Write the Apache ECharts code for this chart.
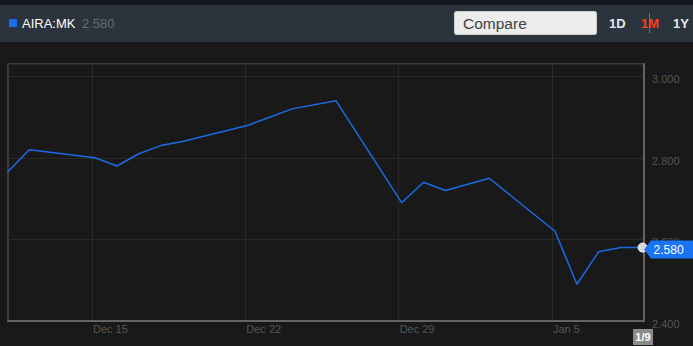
<!DOCTYPE html>
<html>
<head>
<meta charset="utf-8">
<script src="https://cdn.jsdelivr.net/npm/echarts@6/dist/echarts.min.js"></script>
<style>
  html, body { margin: 0; padding: 0; background: #191919; }
  #chart { width: 693px; height: 346px; }
</style>
</head>
<body>
<div id="chart"></div>
<script>
// ---- data ----
const ticker = 'AIRA:MK';
const dates = ['2014-12-11','2014-12-12','2014-12-15','2014-12-16','2014-12-17','2014-12-18','2014-12-19',
               '2014-12-22','2014-12-23','2014-12-24','2014-12-26','2014-12-29','2014-12-30','2014-12-31',
               '2015-01-02','2015-01-05','2015-01-06','2015-01-07','2015-01-08','2015-01-09'];
const prices = [2.765, 2.82, 2.80, 2.78, 2.81, 2.83, 2.84,
                2.88, 2.90, 2.92, 2.94, 2.69, 2.74, 2.72,
                2.75, 2.62, 2.49, 2.57, 2.58, 2.58];
const weekTicks = ['2014-12-15','2014-12-22','2014-12-29','2015-01-05'];
const rangeButtons = ['1D','1M','1Y'];
const activeRange = '1M';
const sessionTime = 'T03:18:00Z';
const viewStart = '2014-12-11T04:00:00Z';
const viewEnd = '2015-01-09T04:50:00Z';
const yMin = 2.4, yMax = 3.03, yStep = 0.2;

// ---- helpers ----
const DAY = 86400000;
const toDay = s => Date.parse(s) / DAY;
const MONTHS = ['Jan','Feb','Mar','Apr','May','Jun','Jul','Aug','Sep','Oct','Nov','Dec'];
const seriesData = dates.map((d, i) => [toDay(d + sessionTime), prices[i]]);
const last = seriesData[seriesData.length - 1];
const lastDate = new Date(dates[dates.length - 1] + 'T00:00:00Z');
const FONT = '"Liberation Sans", Arial, sans-serif';

const chart = echarts.init(document.getElementById('chart'), null, { renderer: 'svg' });

const option = {
  backgroundColor: '#191919',
  animation: false,
  grid: { left: 8, right: 49, top: 64, bottom: 25, show: true, borderColor: '#5c5c5c', borderWidth: 1, backgroundColor: 'transparent' },
  xAxis: {
    type: 'value',
    min: toDay(viewStart),
    max: toDay(viewEnd),
    axisLine: { show: true, onZero: false, lineStyle: { color: '#646464', width: 2 } },
    axisTick: { show: false, customValues: weekTicks.map(d => toDay(d + 'T00:00:00Z')) },
    splitLine: { show: true, lineStyle: { color: '#2a2a2a', width: 1 } },
    axisLabel: {
      customValues: weekTicks.map(d => toDay(d + 'T00:00:00Z')),
      formatter: v => { const dt = new Date(Math.round(v) * DAY); return MONTHS[dt.getUTCMonth()] + ' ' + dt.getUTCDate(); },
      color: '#555', fontSize: 11, fontFamily: FONT, align: 'left', margin: 2, padding: [0, 0, 0, 1]
    }
  },
  yAxis: {
    type: 'value',
    position: 'right',
    min: yMin, max: yMax, interval: yStep,
    axisLine: { show: true, lineStyle: { color: '#646464', width: 2 } },
    axisTick: { show: false },
    splitLine: { show: true, lineStyle: { color: '#2a2a2a', width: 1 } },
    axisLabel: {
      formatter: v => Math.abs(v / yStep - Math.round(v / yStep)) < 1e-6 ? v.toFixed(3) : '',
      color: '#555', fontSize: 11, fontFamily: FONT, margin: 8,
      verticalAlign: 'top', lineHeight: 6
    }
  },
  series: [{
    type: 'line',
    data: seriesData,
    showSymbol: false,
    clip: true,
    lineStyle: { color: '#1a6be3', width: 1.5 },
    itemStyle: { color: '#1a6be3' },
    endLabel: {
      show: true,
      formatter: p => p.value[1].toFixed(3),
      color: '#ffffff', fontSize: 12, fontFamily: FONT,
      backgroundColor: '#1a73f2',
      padding: [3, 12, 3, 3],
      distance: 8,
      offset: [0, 2]
    },
    markPoint: {
      silent: true,
      animation: false,
      label: { show: false },
      data: [
        { coord: last, symbol: 'circle', symbolSize: 9, itemStyle: { color: '#d8d8d8', borderColor: '#ffffff', borderWidth: 1 } },
        { coord: last, symbol: 'path://M0,9 L7,0 L7,18 Z', symbolSize: [7, 18], symbolOffset: [5, 2], symbolKeepAspect: false, itemStyle: { color: '#1a73f2' } }
      ]
    }
  }],
  graphic: []
};
chart.setOption(option);

// header + date badge graphics
const lastPx = chart.convertToPixel({ gridIndex: 0 }, last);
const g = [
  { type: 'rect', shape: { x: 0, y: 0, width: 693, height: 5 }, style: { fill: '#13171b' }, silent: true },
  { type: 'rect', shape: { x: 0, y: 5, width: 693, height: 37 }, style: { fill: '#2b333d' }, silent: true },
  { type: 'rect', shape: { x: 9, y: 19, width: 8, height: 8 }, style: { fill: '#1a6cf0' } },
  { type: 'text', x: 22, y: 23, style: { text: ticker, fill: '#ffffff', font: '13px ' + FONT, verticalAlign: 'middle' } },
  { type: 'text', x: 82, y: 23, style: { text: prices[prices.length - 1].toFixed(3), fill: '#666c72', font: '13px ' + FONT, verticalAlign: 'middle' } },
  { type: 'rect', shape: { x: 454.5, y: 11.5, width: 142, height: 23, r: 2 }, style: { fill: '#ececec', stroke: '#cfcfcf', lineWidth: 1 } },
  { type: 'text', x: 463, y: 23.5, style: { text: 'Compare', fill: '#3f4246', font: '15.5px ' + FONT, verticalAlign: 'middle' } }
];
const btnX = [609, 641, 673];
rangeButtons.forEach((b, i) => {
  g.push({ type: 'text', x: btnX[i], y: 23, style: { text: b, fill: b === activeRange ? '#ff3b1d' : '#e3e8ef', font: 'bold 13px ' + FONT, verticalAlign: 'middle' } });
});
g.push({ type: 'rect', shape: { x: 649, y: 13, width: 1, height: 20 }, style: { fill: '#ff3b1d' } });
g.push({ type: 'rect', shape: { x: Math.round(lastPx[0]) - 10, y: 329, width: 20, height: 16 }, style: { fill: '#8c8c8c' } });
g.push({ type: 'text', x: Math.round(lastPx[0]), y: 337, style: { text: (lastDate.getUTCMonth() + 1) + '/' + lastDate.getUTCDate(), fill: '#ffffff', font: 'bold 11px ' + FONT, align: 'center', verticalAlign: 'middle' } });
chart.setOption({ graphic: g });
</script>
</body>
</html>
